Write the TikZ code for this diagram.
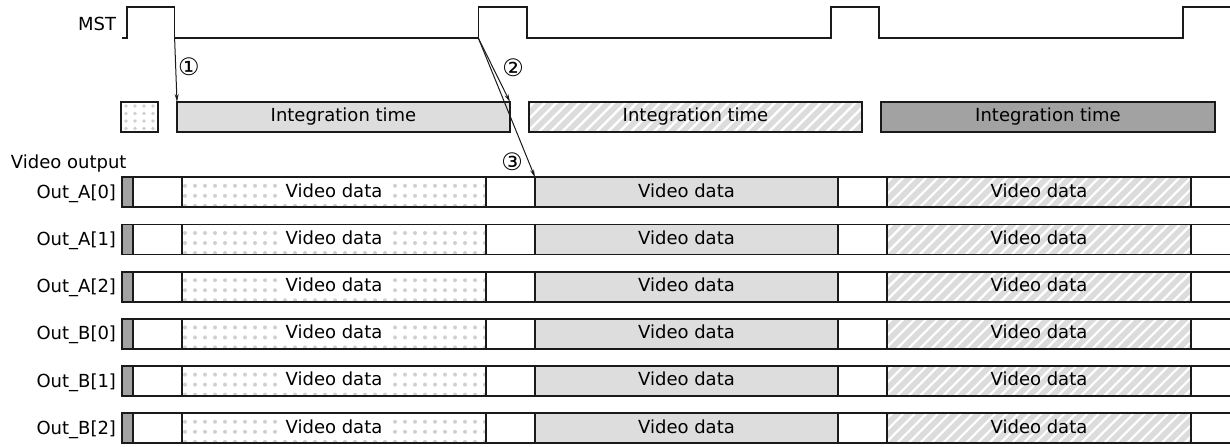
\documentclass[tikz,border=0pt]{standalone}
\usepackage{fontspec}
\setmainfont{DejaVu Sans}
\usetikzlibrary{arrows.meta,calc}
\definecolor{lg}{HTML}{DCDDDC}
\definecolor{dg}{HTML}{A2A2A2}
\definecolor{dotc}{HTML}{D0D0D0}
\definecolor{hatc}{HTML}{DCDCDC}
\definecolor{ink}{HTML}{1A1A1A}
\tikzset{
  frame/.style={draw=ink, line width=1.25pt},
  seg/.style={frame, rectangle, inner sep=0pt, outer sep=0pt, anchor=north west,
    minimum height=22.5pt, text height=0.729em, text depth=0pt},
  lbl/.style={inner sep=0pt, outer sep=0pt},
  circ/.style={lbl, font=\fontsize{18pt}{20pt}\selectfont},
  arr/.style={draw=ink, line width=0.75pt, -{Stealth[length=6pt,width=3pt]}},
  dotsfill/.style={path picture={
    \foreach \i in {0,...,31}{\foreach \j in {0,1,2}{
      \fill[dotc] ($(path picture bounding box.north west)+(3+\i*10,8.5+\j*10)$) circle (1.5pt);}}
    \fill[white] ($(path picture bounding box.center)+(-54,-11)$) rectangle ($(path picture bounding box.center)+(54,11)$);
  }},
  smalldots/.style={path picture={
    \foreach \i in {0,...,3}{\foreach \j in {0,...,3}{
      \fill[dotc] ($(path picture bounding box.north west)+(5+\i*9,4+\j*7.5)$) circle (1.35pt);}}
  }},
  hatchfill/.style={path picture={
    \foreach \i in {-4,...,31}{
      \draw[hatc, line width=4.2pt] ($(path picture bounding box.south west)+(\i*11.5,4)$) -- ++(44,-44);}
  }},
}
\begin{document}
\begin{tikzpicture}[x=0.75pt,y=-0.75pt,font=\fontsize{13.5pt}{15pt}\selectfont]
\useasboundingbox (0,0) rectangle (1230,446);

% MST signal
\node[lbl, anchor=base east] (mst) at (116,30) {MST};
\coordinate (f1) at (174.6,38);
\coordinate (r2) at (478.3,38);
\draw[frame, line width=1.05pt] (122,38) -- (126.8,38) -- (126.8,7) -- (174.6,7) -- (f1) -- (r2)
  -- (478.3,7) -- (526.8,7) -- (526.8,38) -- (831,38) -- (831,7) -- (879,7) -- (879,38)
  -- (1183,38) -- (1183,7) -- (1230,7);

% integration row
\node[seg, smalldots, minimum width=27.75pt] (i0) at (121,102) {};
\node[seg, fill=lg, minimum width=249.75pt] (i1) at (177,102) {Integration time};
\node[seg, hatchfill, minimum width=249.75pt] (i2) at (529,102) {Integration time};
\node[seg, fill=dg, minimum width=250.5pt] (i3) at (881,102) {Integration time};

% video output
\node[lbl, anchor=base west] (vo) at (11,168) {Video output};
\foreach \r/\lab in {0/{Out\_A[0]},1/{Out\_A[1]},2/{Out\_A[2]},3/{Out\_B[0]},4/{Out\_B[1]},5/{Out\_B[2]}}{
  \pgfmathsetmacro\yt{177.3+47.2*\r}
  \node[lbl, anchor=base east] (l\r) at (116,\yt+21) {\lab};
  \node[seg, fill=dg, minimum width=8.25pt] (g\r) at (122,\yt) {};
  \node[seg, minimum width=36.75pt] (a\r) at (133,\yt) {};
  \node[seg, dotsfill, minimum width=228pt] (d\r) at (182,\yt) {Video data};
  \node[seg, minimum width=36.75pt] (b\r) at (486,\yt) {};
  \node[seg, fill=lg, minimum width=227.25pt] (s\r) at (535,\yt) {Video data};
  \node[seg, minimum width=36.75pt] (c\r) at (838,\yt) {};
  \node[seg, hatchfill, minimum width=228pt] (h\r) at (887,\yt) {Video data};
  \draw[frame] (h\r.north east) -- ++(45,0);
  \draw[frame] (h\r.south east) -- ++(45,0);
}

% arrows and labels
\draw[arr] (f1) -- (i1.north west);
\draw[arr] (r2) -- (i1.north east);
\draw[arr] (r2) -- (s0.north west);
\node[circ] (n1) at (189,67) {①};
\node[circ] (n2) at (513,68) {②};
\node[circ] (n3) at (512,162) {③};
\end{tikzpicture}
\end{document}
